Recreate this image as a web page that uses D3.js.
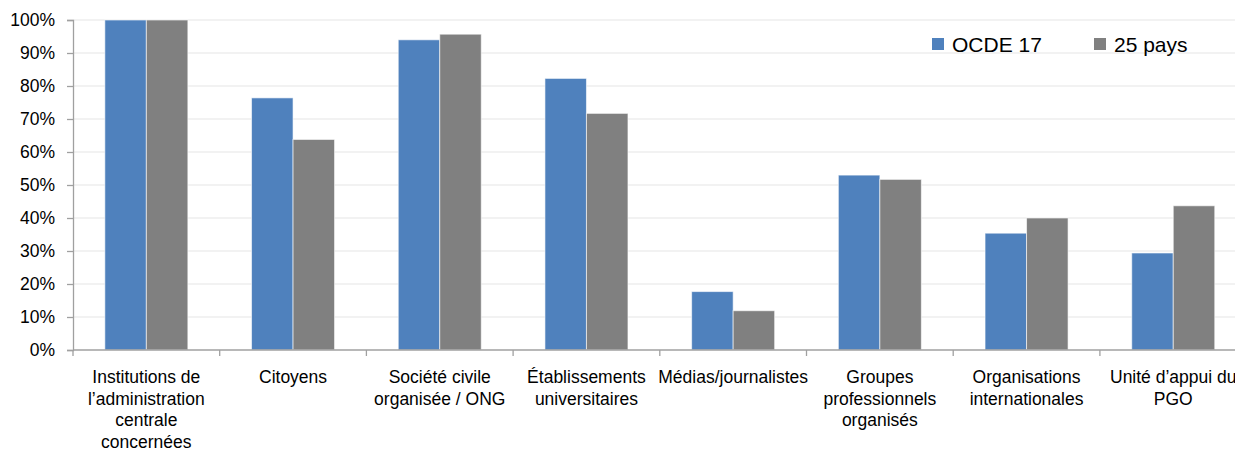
<!DOCTYPE html>
<html>
<head>
<meta charset="utf-8">
<script src="https://cdnjs.cloudflare.com/ajax/libs/d3/7.8.5/d3.min.js"></script>
<style>
  body { margin: 0; background: #ffffff; }
  text { font-family: "Liberation Sans", Arial, sans-serif; fill: #000000; }
</style>
</head>
<body>
<div id="chart"></div>
<script>
// data
var categories = [
  "Institutions de\nl\u2019administration\ncentrale\nconcern\u00e9es",
  "Citoyens",
  "Soci\u00e9t\u00e9 civile\norganis\u00e9e / ONG",
  "\u00c9tablissements\nuniversitaires",
  "M\u00e9dias/journalistes",
  "Groupes\nprofessionnels\norganis\u00e9s",
  "Organisations\ninternationales",
  "Unit\u00e9 d\u2019appui du\nPGO"
];
var series = ["OCDE 17", "25 pays"];
var ocde17 = [100, 76.4, 94.0, 82.3, 17.7, 53.0, 35.4, 29.4];
var pays25 = [100, 63.8, 95.7, 71.7, 11.9, 51.7, 40.0, 43.7];
var yTicks = [0, 10, 20, 30, 40, 50, 60, 70, 80, 90, 100];
var colors = ["#4f81bd", "#808080"];

// canvas
var width = 1235;
var height = 452;
var left = 73;
var top0 = 20;
var bottom0 = 350;
var step = 146.7;

var svg = d3.select("#chart")
  .append("svg")
  .attr("width", width)
  .attr("height", height);

// scales
var x0 = d3.scaleBand()
  .domain(categories)
  .range([left, left + step * categories.length])
  .paddingInner(0);
var x1 = d3.scaleBand()
  .domain(series)
  .range([0, x0.bandwidth()])
  .paddingInner(0)
  .paddingOuter(0.767);
var y = d3.scaleLinear()
  .domain([0, 100])
  .range([bottom0, top0]);

// gridlines
svg.append("g")
  .selectAll("line")
  .data(yTicks.slice(1))
  .enter()
  .append("line")
  .attr("x1", left)
  .attr("x2", width)
  .attr("y1", d => y(d))
  .attr("y2", d => y(d))
  .attr("stroke", "#eeeeee")
  .attr("stroke-width", 1.5);

// bars
var rows = categories.map((c, i) => ({ cat: c, values: [ocde17[i], pays25[i]] }));
var groups = svg.append("g")
  .selectAll("g")
  .data(rows)
  .enter()
  .append("g")
  .attr("transform", d => `translate(${x0(d.cat)},0)`);
groups.selectAll("rect")
  .data(d => d.values.map((v, j) => ({ key: series[j], value: v, idx: j })))
  .enter()
  .append("rect")
  .attr("x", d => x1(d.key))
  .attr("width", x1.bandwidth())
  .attr("y", d => y(d.value))
  .attr("height", d => y(0) - y(d.value))
  .attr("fill", d => colors[d.idx])
  .attr("stroke", "rgba(255,255,255,0.6)")
  .attr("stroke-width", 1);

// y axis
var yAxis = d3.axisLeft(y)
  .tickValues(yTicks)
  .tickSize(6)
  .tickPadding(12)
  .tickFormat(d => d + "%");
var gy = svg.append("g")
  .attr("transform", `translate(${left},0)`)
  .call(yAxis);
gy.select(".domain").attr("stroke", "#a0a0a0").attr("stroke-width", 1.3);
gy.selectAll(".tick line").attr("stroke", "#a0a0a0").attr("stroke-width", 1.3);
gy.selectAll(".tick text")
  .style("font-size", "17.5px")
  .style("font-family", "'Liberation Sans', Arial, sans-serif")
  .attr("fill", "#000");

// x axis line and boundary ticks (left edge included)
svg.append("line")
  .attr("x1", left)
  .attr("x2", width)
  .attr("y1", y(0))
  .attr("y2", y(0))
  .attr("stroke", "#a0a0a0")
  .attr("stroke-width", 1.3);
var bounds = [x0(categories[0])].concat(categories.map(d => x0(d) + x0.bandwidth()));
svg.append("g")
  .selectAll("line")
  .data(bounds)
  .enter()
  .append("line")
  .attr("x1", d => d)
  .attr("x2", d => d)
  .attr("y1", y(0))
  .attr("y2", y(0) + 6)
  .attr("stroke", "#a0a0a0")
  .attr("stroke-width", 1.3);

// category labels
var labels = svg.append("g")
  .selectAll("text")
  .data(categories)
  .enter()
  .append("text")
  .attr("x", d => x0(d) + x0.bandwidth() / 2)
  .attr("y", 383)
  .style("font-size", "17.5px")
  .style("text-anchor", "middle");
labels.each(function (d) {
  var t = d3.select(this);
  d.split("\n").forEach((line, i) => {
    t.append("tspan")
      .attr("x", x0(d) + x0.bandwidth() / 2)
      .attr("dy", i === 0 ? 0 : 21.5)
      .text(line);
  });
});

// legend
var legendX = [932, 1094];
var legend = svg.append("g")
  .selectAll("g")
  .data(series)
  .enter()
  .append("g")
  .attr("transform", (d, i) => `translate(${legendX[i]},0)`);
legend.append("rect")
  .attr("x", 0)
  .attr("y", 38)
  .attr("width", 12)
  .attr("height", 12)
  .attr("fill", (d, i) => colors[i]);
legend.append("text")
  .attr("x", 20)
  .attr("y", 52)
  .style("font-size", "21px")
  .text(d => d);
</script>
</body>
</html>
